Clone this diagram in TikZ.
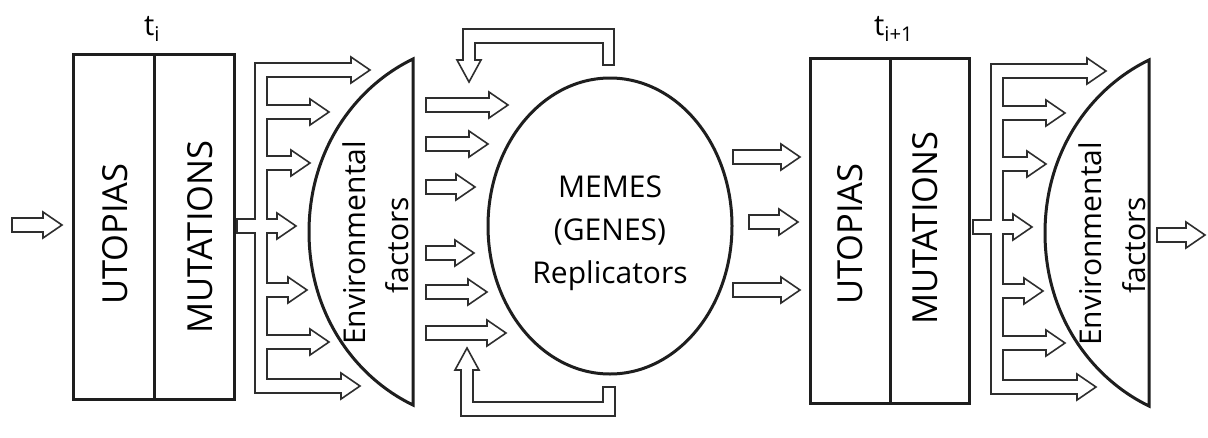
\documentclass[tikz,border=0pt]{standalone}
\usepackage{fontspec}
\setmainfont{Open Sans}
\usetikzlibrary{shapes.geometric}
\definecolor{ink}{HTML}{1E1E1E}
\definecolor{arrowink}{HTML}{2E2E2E}

% block-arrow geometry: half shaft width, half head width, head length
\def\aw{7}
\def\ah{13}
\def\al{19}

% one branch of the distribution comb, leaving the spine at x=#1
\newcommand\armseg[3]{-- (#1,#2-\aw) -- (#3-\al,#2-\aw) -- (#3-\al,#2-\ah) -- (#3,#2) -- (#3-\al,#2+\ah) -- (#3-\al,#2+\aw) -- (#1,#2+\aw)}
% a free-standing hollow block arrow from x=#1 to tip x=#3 at height #2
\newcommand\blockarrow[3]{\draw[blk] (#1,#2-\aw) -- (#3-\al,#2-\aw) -- (#3-\al,#2-\ah) -- (#3,#2) -- (#3-\al,#2+\ah) -- (#3-\al,#2+\aw) -- (#1,#2+\aw) -- cycle;}

% lens shape of the environmental factors, then the comb of arrows feeding it
\newcommand\envstage{%
  \draw[lens] (413,59) -- (413,405) .. controls (355,377) and (309,314) .. (309,232)
     .. controls (309,150) and (355,87) .. (413,59) -- cycle;
  \draw[blk] (237,219) -- (255,219) -- (255,63) -- (351,63) -- (351,57) -- (370,70) -- (351,83) -- (351,77) -- (267,77)
    \armseg{267}{112}{329}
    \armseg{267}{163}{310}
    \armseg{267}{226}{296}
    \armseg{267}{290}{307}
    \armseg{267}{342}{329}
    -- (267,379) -- (341,379) -- (341,373) -- (360,386) -- (341,399) -- (341,393) -- (255,393) -- (255,233) -- (237,233) -- cycle;
}

\begin{document}
\begin{tikzpicture}[x=1pt,y=-1pt,
  boxline/.style={draw=ink,line width=3pt,inner sep=0pt},
  blk/.style={draw=arrowink,line width=1.6pt,fill=white,line join=miter},
  lens/.style={draw=ink,line width=3pt,line join=miter},
  boxtext/.style={inner sep=0pt,anchor=base,rotate=90,font=\fontsize{34.5}{34.5}\selectfont},
  envtxt/.style={inner sep=0pt,anchor=base,rotate=90,font=\fontsize{30}{30}\selectfont},
  meme/.style={inner sep=0pt,anchor=base,font=\fontsize{30}{30}\selectfont},
  tlabel/.style={inner sep=0pt,anchor=base west,font=\fontsize{29}{29}\selectfont}]
\useasboundingbox[fill=white] (0,0) rectangle (1208,437);

% ---- first generation ----
\blockarrow{12}{225}{62}
\node[boxline,anchor=north west,minimum width=161pt,minimum height=345pt] (box1) at (72,53) {};
\draw[ink,line width=3pt] (box1.north) -- (box1.south);
\node[boxtext] (utop1) at (127,234) {UTOPIAS};
\node[boxtext] (mut1) at (212,237) {MUTATIONS};
\node[tlabel] (t1) at (144,35) {t\textsubscript{i}};

\envstage
\node[envtxt] (env1) at (365,243) {Environmental};
\node[envtxt] (fac1) at (408,245) {factors};

% ---- replicators ----
\node[ellipse,draw=ink,line width=3pt,minimum width=244pt,minimum height=296pt,inner sep=0pt] (memes) at (610,226) {};
\node[meme] (m1) at (610,197) {MEMES};
\node[meme] (m2) at (610,240) {(GENES)};
\node[meme] (m3) at (610,283) {Replicators};

\blockarrow{426}{105}{508}
\blockarrow{426}{144}{488}
\blockarrow{426}{187}{475}
\blockarrow{426}{253}{474}
\blockarrow{426}{292}{487}
\blockarrow{426}{333}{506}

% feedback loops over and under the replicators
\draw[blk] (614,65) -- (614,29) -- (463,29) -- (463,60) -- (457,60) -- (469,82) -- (481,60) -- (475,60) -- (475,43) -- (603,43) -- (603,65) -- cycle;
\draw[blk] (603,387) -- (615,387) -- (615,416) -- (461,416) -- (461,370) -- (455,370) -- (467,348) -- (479,370) -- (473,370) -- (473,402) -- (603,402) -- cycle;

\blockarrow{733}{157}{800}
\blockarrow{749}{222}{798}
\blockarrow{733}{290}{800}

% ---- next generation ----
\node[boxline,anchor=north west,minimum width=159pt,minimum height=345pt] (box2) at (809,57) {};
\draw[ink,line width=3pt] (box2.north) -- (box2.south);
\node[boxtext] (utop2) at (862,234) {UTOPIAS};
\node[boxtext] (mut2) at (937,228) {MUTATIONS};
\node[tlabel] (t2) at (874,35) {t\textsubscript{i+1}};

\begin{scope}[shift={(736,1)}]
  \envstage
\end{scope}
\node[envtxt] (env2) at (1101,244) {Environmental};
\node[envtxt] (fac2) at (1145,245) {factors};

\blockarrow{1157}{235}{1205}
\end{tikzpicture}
\end{document}
